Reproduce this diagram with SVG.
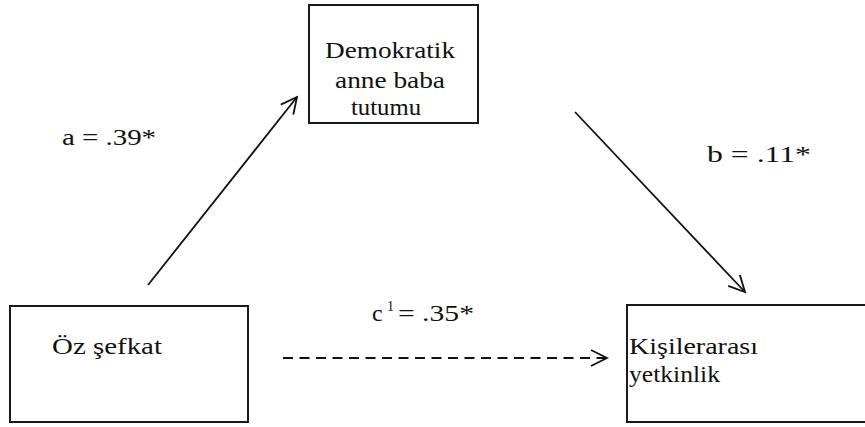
<svg xmlns="http://www.w3.org/2000/svg" width="865" height="427" viewBox="0 0 865 427">
<style>
.box{fill:#fff;stroke:#1a1a1a;stroke-width:2}
.t{font-family:"Liberation Serif","Times New Roman",serif;font-size:24px;fill:#111}
.sup{font-size:14px}
.c{fill:none;stroke:#111;stroke-width:1.8}
</style>
<defs>
<marker id="ah" viewBox="0 0 20 20" refX="18" refY="10" markerWidth="20" markerHeight="20" markerUnits="userSpaceOnUse" orient="auto">
<path d="M2,2 L18,10 L2,18" fill="none" stroke="#111" stroke-width="1.8"/>
</marker>
</defs>
<rect width="865" height="427" fill="#fff"/>
<g id="connectors">
<line class="c" x1="148" y1="285" x2="297" y2="97" marker-end="url(#ah)"/>
<line class="c" x1="575" y1="112" x2="745" y2="292" marker-end="url(#ah)"/>
<line class="c" x1="283" y1="358" x2="607" y2="358" stroke-dasharray="10,6.5" marker-end="url(#ah)"/>
</g>
<g id="n-demokratik">
<rect class="box" x="309" y="5" width="169" height="118"/>
<text class="t" x="325" y="58" textLength="130" lengthAdjust="spacingAndGlyphs">Demokratik</text>
<text class="t" x="335" y="88" textLength="110" lengthAdjust="spacingAndGlyphs">anne baba</text>
<text class="t" x="351" y="115" textLength="70" lengthAdjust="spacingAndGlyphs">tutumu</text>
</g>
<g id="n-oz">
<rect class="box" x="10" y="306" width="238" height="116"/>
<text class="t" x="52" y="354" textLength="110" lengthAdjust="spacingAndGlyphs">Öz şefkat</text>
</g>
<g id="n-kisilerarasi">
<rect class="box" x="627" y="305" width="240" height="117"/>
<text class="t" x="629" y="354" textLength="129" lengthAdjust="spacingAndGlyphs">Kişilerarası</text>
<text class="t" x="629" y="382" textLength="91" lengthAdjust="spacingAndGlyphs">yetkinlik</text>
</g>
<g id="labels">
<text class="t" x="62" y="145" textLength="94" lengthAdjust="spacingAndGlyphs">a = .39*</text>
<text class="t" x="707" y="162" textLength="104" lengthAdjust="spacingAndGlyphs">b = .11*</text>
<text class="t" x="372" y="321">c</text>
<text class="t sup" x="387" y="311">1</text>
<text class="t" x="398" y="321" textLength="76" lengthAdjust="spacingAndGlyphs">= .35*</text>
</g>
</svg>
